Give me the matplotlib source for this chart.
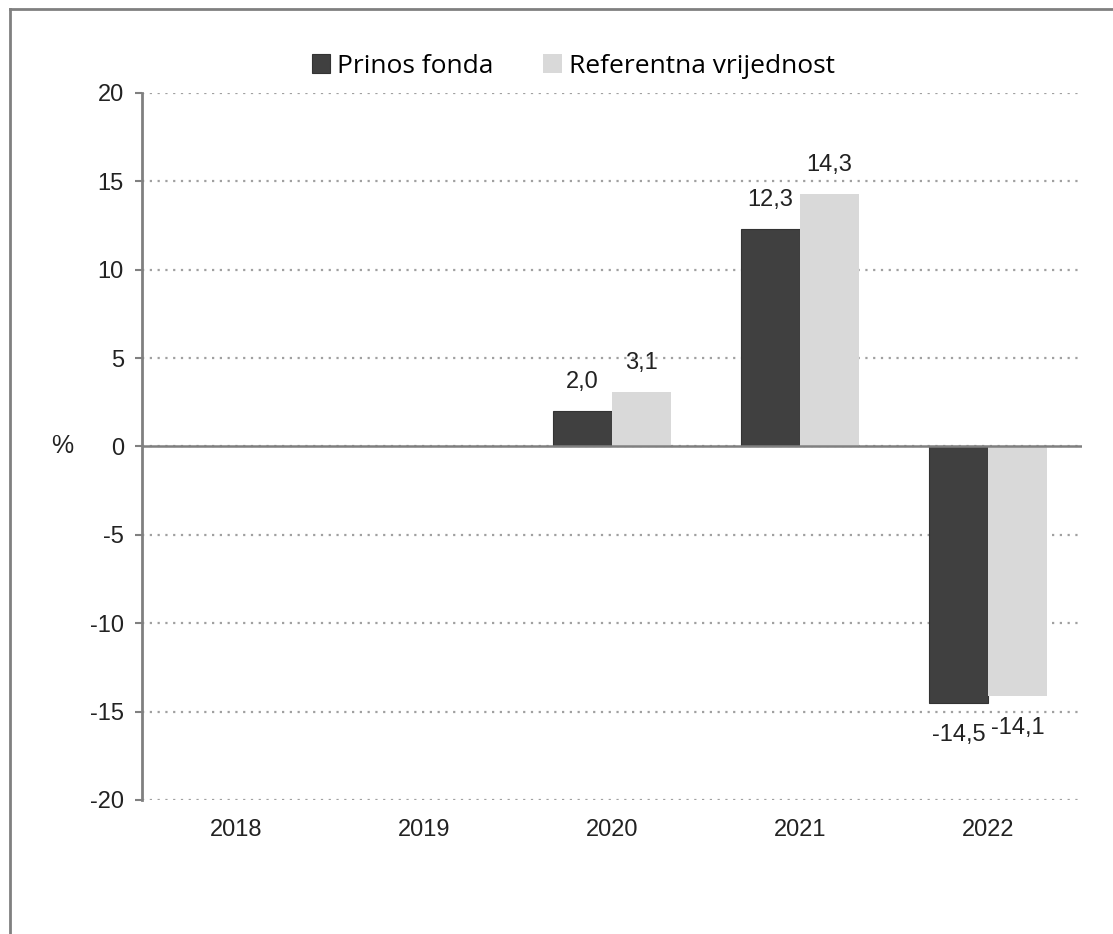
import matplotlib.pyplot as plt
from matplotlib.lines import Line2D
import numpy as np

plt.rcParams['font.family'] = ['Liberation Sans', 'DejaVu Sans']
plt.rcParams['axes.unicode_minus'] = False

# Data
years = ['2018', '2019', '2020', '2021', '2022']
prinos_fonda = [np.nan, np.nan, 2.0, 12.3, -14.5]
referentna = [np.nan, np.nan, 3.1, 14.3, -14.1]

dark = '#404040'
light = '#d9d9d9'
grey = '#808080'

fig = plt.figure(figsize=(11.13, 9.34), dpi=100)
ax = fig.add_axes([0.1276, 0.1435, 0.8446, 0.757])

x = np.arange(len(years))
w = 0.315
b1 = ax.bar(x - w / 2, prinos_fonda, w, color=dark, edgecolor='#333333', linewidth=0.8,
            label='Prinos fonda', zorder=3)
b2 = ax.bar(x + w / 2, referentna, w, color=light, label='Referentna vrijednost', zorder=3)

def fmt(v):
    return ('%.1f' % v).replace('.', ',')

for bars, vals in ((b1, prinos_fonda), (b2, referentna)):
    for rect, v in zip(bars, vals):
        if np.isnan(v):
            continue
        cx = rect.get_x() + rect.get_width() / 2
        if v >= 0:
            ax.annotate(fmt(v), (cx, v), xytext=(0, 13), textcoords='offset points',
                        ha='center', va='bottom', fontsize=17, color='#222222')
        else:
            ax.annotate(fmt(v), (cx, v), xytext=(0, -15), textcoords='offset points',
                        ha='center', va='top', fontsize=17, color='#222222')

ax.set_xlim(-0.5, len(years) - 0.5)
ax.set_ylim(-20, 20)
ax.set_yticks(range(-20, 21, 5))
ax.set_xticks(x)
ax.set_xticklabels(years)
ax.tick_params(axis='x', length=0, pad=14, labelsize=17, colors='#222222')
ax.tick_params(axis='y', length=5, width=1.5, color=grey, pad=8, labelsize=17,
               labelcolor='#222222')

ax.grid(axis='y', linestyle=(0, (1, 2.5)), color='#a0a0a0', linewidth=1.6, zorder=0)
ax.axhline(0, color=grey, linewidth=1.8, zorder=4)

for s in ('top', 'right', 'bottom'):
    ax.spines[s].set_visible(False)
ax.spines['left'].set_color(grey)
ax.spines['left'].set_linewidth(2)

ax.set_ylabel('%', rotation=0, fontsize=18, color='#222222', va='center', ha='center')
ax.yaxis.set_label_coords(-0.085, 0.5)

fig.legend(handles=[b1, b2], loc='center', bbox_to_anchor=(0.515, 0.929), ncol=2,
           frameon=False, handlelength=0.7, handleheight=0.7,
           handletextpad=0.25, columnspacing=1.9, prop={'family': 'Open Sans', 'size': 19})

# partial frame around the figure
fig.add_artist(Line2D([0.009, 1.0], [0.99, 0.99], transform=fig.transFigure,
                      color=grey, linewidth=2))
fig.add_artist(Line2D([0.009, 0.009], [0.0, 0.99], transform=fig.transFigure,
                      color=grey, linewidth=2))

fig.savefig('out.png', dpi=100)
